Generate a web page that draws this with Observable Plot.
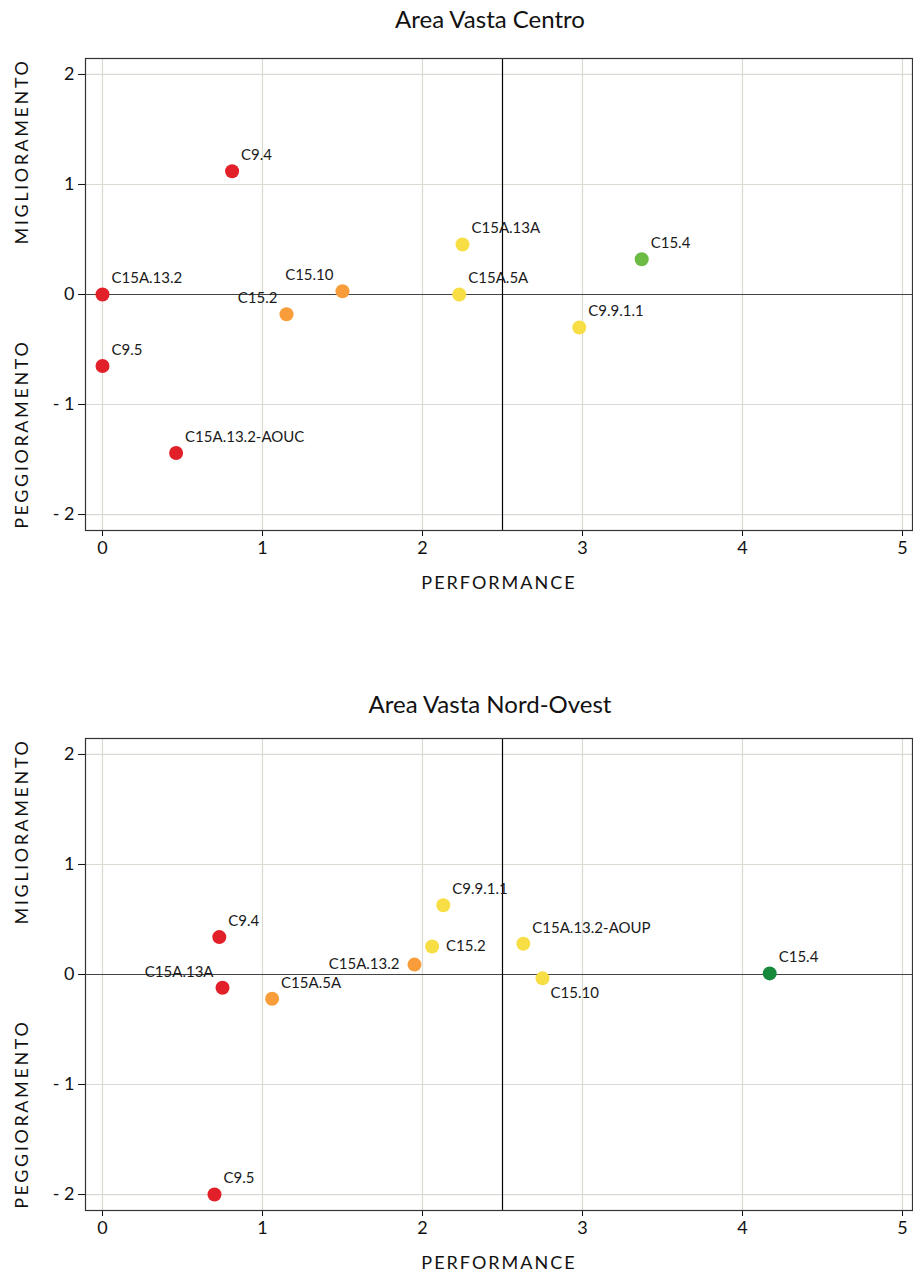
<!DOCTYPE html>
<html><head><meta charset="utf-8">
<script src="https://cdn.jsdelivr.net/npm/d3@7"></script>
<script src="https://cdn.jsdelivr.net/npm/@observablehq/plot@0.6"></script>
<style>
body{margin:0;background:#fff;font-family:Lato,"Open Sans",sans-serif;}
#wrap{position:relative;width:913px;height:1273px;overflow:hidden;}
.title{position:absolute;left:0;width:980px;text-align:center;font-size:24px;line-height:28px;color:#111;}
.panel{position:absolute;left:0;}
</style></head><body><div id="wrap"></div>
<script>
// ---- Data: Area Vasta Centro ----
const centroCodes = ["C9.4","C15A.13.2","C9.5","C15A.13.2-AOUC","C15.2","C15.10","C15A.13A","C15A.5A","C9.9.1.1","C15.4"];
const centroPerformance = [0.81, 0.0, 0.0, 0.46, 1.15, 1.50, 2.25, 2.23, 2.98, 3.37];
const centroTrend = [1.12, 0.0, -0.65, -1.44, -0.18, 0.03, 0.455, 0.0, -0.30, 0.32];
const centroClass = ["rosso","rosso","rosso","rosso","arancio","arancio","giallo","giallo","giallo","verde"];
const centroLabelPos = ["ne","ne","ne","ne","nw","nw","ne","ne","ne","ne"];

// ---- Data: Area Vasta Nord-Ovest ----
const nordCodes = ["C9.4","C15A.13A","C15A.5A","C15A.13.2","C15.2","C9.9.1.1","C15A.13.2-AOUP","C15.10","C15.4","C9.5"];
const nordPerformance = [0.73, 0.75, 1.06, 1.95, 2.06, 2.13, 2.63, 2.75, 4.17, 0.70];
const nordTrend = [0.34, -0.12, -0.22, 0.09, 0.255, 0.63, 0.28, -0.035, 0.01, -2.0];
const nordClass = ["rosso","rosso","arancio","arancio","giallo","giallo","giallo","giallo","verdeScuro","rosso"];
const nordLabelPos = ["ne","nw","ne","w","e","ne","ne","se","ne","ne"];

// ---- Ticks, titles ----
const xTicks = [0,1,2,3,4,5];
const yTicks = [-2,-1,0,1,2];
const classDomain = ["rosso","arancio","giallo","verde","verdeScuro"];
const classColors = ["#E2202A","#F89D3A","#F8DE45","#6CBB45","#17893B"];
const panelTitles = ["Area Vasta Centro","Area Vasta Nord-Ovest"];
const xTitle = "PERFORMANCE";
const yTitles = ["MIGLIORAMENTO","PEGGIORAMENTO"];
const yTitlePos = [1.3, -1.27];
const yTitleX = -0.5;

const offsets = {
  ne:{dx:9, dy:-16, a:"start"},
  nw:{dx:-9, dy:-16, a:"end"},
  w:{dx:-15, dy:0, a:"end"},
  e:{dx:14, dy:0, a:"start"},
  se:{dx:8, dy:15, a:"start"}
};

function panel(codes, xs, ys, cls, pos) {
  const data = codes.map((c,i)=>({code:c, x:xs[i], y:ys[i], cls:cls[i], pos:pos[i]}));
  const labelMarks = Object.entries(offsets).map(([k,o]) =>
    Plot.text(data.filter(d=>d.pos===k), {x:"x", y:"y", text:"code", dx:o.dx, dy:o.dy, textAnchor:o.a, fontSize:15, fill:"#1a1a1a"}));
  const ytData = yTitles.map((t,i)=>({t, x:yTitleX, y:yTitlePos[i]}));
  const svg = Plot.plot({
    width:913, height:600,
    marginTop:58, marginBottom:70, marginLeft:85, marginRight:1,
    style:{fontFamily:"Lato, 'Open Sans', sans-serif", fontSize:"18px", color:"#111", background:"white", overflow:"visible"},
    x:{domain:[-0.10625,5.0625], ticks:xTicks, tickFormat:d=>String(d), tickSize:6, tickPadding:5, label:null},
    y:{domain:[-2.145,2.145], ticks:yTicks, tickFormat:d=> d<0 ? "- "+Math.abs(d) : String(d), tickSize:7, tickPadding:4, label:null},
    color:{domain:classDomain, range:classColors},
    marks:[
      Plot.ruleX(xTicks, {stroke:"#DADAD2", strokeWidth:1.2}),
      Plot.ruleY(yTicks, {stroke:"#DADAD2", strokeWidth:1.2}),
      Plot.ruleY([0], {stroke:"#444", strokeWidth:1.2}),
      Plot.ruleX([2.5], {stroke:"#000", strokeWidth:1.2}),
      Plot.frame({stroke:"#333", strokeWidth:1.2}),
      Plot.dot(data, {x:"x", y:"y", fill:"cls", r:7}),
      ...labelMarks,
      Plot.text([xTitle], {frameAnchor:"bottom", dy:58, fontSize:18, fill:"#111"}),
      Plot.text(ytData, {x:"x", y:"y", text:"t", rotate:-90, fontSize:18, fill:"#111"})
    ]
  });
  d3.select(svg).selectAll("text").filter(function(){ return /^[A-Z]+$/.test(this.textContent); })
    .attr("letter-spacing", function(){ return this.textContent === xTitle ? "2px" : "2.6px"; });
  return svg;
}

const wrap = document.getElementById("wrap");
const t1 = document.createElement("div"); t1.className="title"; t1.style.top="5px"; t1.textContent=panelTitles[0];
const t2 = document.createElement("div"); t2.className="title"; t2.style.top="690px"; t2.textContent=panelTitles[1];
const p1 = panel(centroCodes, centroPerformance, centroTrend, centroClass, centroLabelPos);
p1.classList.add("panel"); p1.style.top="0px";
const p2 = panel(nordCodes, nordPerformance, nordTrend, nordClass, nordLabelPos);
p2.classList.add("panel"); p2.style.top="680px";
wrap.appendChild(p1); wrap.appendChild(p2); wrap.appendChild(t1); wrap.appendChild(t2);
</script></body></html>
